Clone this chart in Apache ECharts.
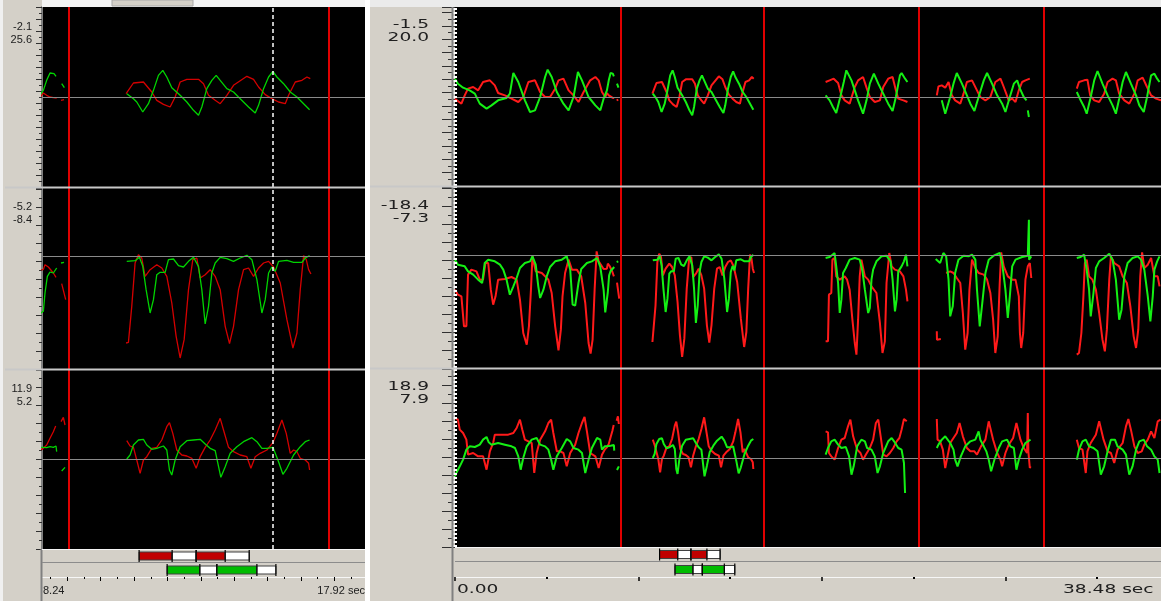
<!DOCTYPE html>
<html><head><meta charset="utf-8">
<script src="https://cdn.jsdelivr.net/npm/echarts@6/dist/echarts.min.js"></script>
<style>html,body{margin:0;padding:0;background:#d4d0c8;}#c{width:1161px;height:601px;}</style>
</head><body><div id="c"></div>
<script>
// time in seconds, values in degrees (null = gap in recording)
const topRed = [
[0.00,-0.5],[0.35,-2.0],[0.53,0.5],[0.71,2.5],[0.99,3.0],[1.26,2.0],[1.53,4.5],[1.90,5.0],[2.17,3.5],[2.35,1.2],[2.72,0.5],[3.08,-0.5],[3.45,-1.5],[3.72,0.0],[4.00,4.5],[4.36,5.0],[4.64,1.5],[4.91,0.0],[5.18,0.0],[5.46,2.5],[5.64,5.0],[5.91,5.5],[6.19,2.0],[6.46,0.5],[6.73,-1.5],[7.01,1.5],[7.37,5.0],[7.65,6.0],[7.83,5.0],[8.01,1.5],[8.19,0.0],[8.28,1.2],[8.33,1.5],[8.38,0.5],[8.48,0.0],[8.58,-0.2],[8.68,-0.3],null,[8.81,-1.0],[8.90,-0.8],null,
[10.76,1.0],[10.98,4.2],[11.28,4.5],[11.53,1.5],[11.68,-1.0],[11.88,-2.2],[12.08,-3.0],[12.23,0.0],[12.38,4.5],[12.58,5.3],[12.93,5.3],[13.08,4.0],[13.23,0.5],[13.43,-1.0],[13.58,-2.0],[13.78,0.5],[13.98,3.5],[14.38,6.2],[14.58,5.3],[14.73,3.0],[14.93,0.7],[15.13,-0.5],[15.33,-1.5],[15.53,-2.0],[15.63,0.5],[15.83,4.5],[16.03,5.0],[16.18,6.0],[16.28,5.5],null,
[20.20,4.5],[20.42,5.0],[20.64,5.5],[20.88,4.2],[21.06,0.5],[21.24,-1.0],[21.51,-2.0],[21.79,3.0],[21.97,5.0],[22.24,6.0],[22.43,2.8],[22.61,0.0],[22.88,-1.5],[23.16,-1.0],[23.34,3.0],[23.61,5.5],[23.85,6.0],[24.03,2.0],[24.16,-0.5],[24.44,-1.0],[24.66,-1.5],null,
[26.26,0.5],[26.35,3.2],[26.53,3.5],[26.72,2.8],[26.90,4.5],[27.08,0.5],[27.26,-1.0],[27.54,-2.0],[27.72,1.0],[27.90,4.5],[28.18,5.0],[28.45,2.0],[28.63,0.0],[28.91,-1.0],[29.18,0.0],[29.45,4.5],[29.73,5.5],[29.91,3.0],[30.18,-1.0],[30.37,-0.5],[30.55,-1.5],[30.73,2.0],[30.91,4.5],[31.09,5.0],[31.33,5.5],null,
[33.89,2.5],[34.01,4.5],[34.29,5.0],[34.47,5.2],[34.62,0.5],[34.84,-1.0],[35.11,-1.5],[35.38,1.0],[35.57,4.5],[35.84,5.5],[36.02,5.0],[36.20,1.0],[36.48,-1.0],[36.75,-2.0],[37.03,1.0],[37.21,5.0],[37.48,5.8],[37.72,3.0],[37.94,0.5],[38.21,-0.5],[38.48,-1.0]
];
const topGreen = [
[0.00,5.5],[0.16,4.0],[0.44,2.8],[0.80,2.0],[1.08,1.0],[1.35,-2.0],[1.72,-3.5],[1.99,-2.5],[2.35,-1.0],[2.81,-0.3],[2.99,1.0],[3.18,7.2],[3.45,4.5],[3.81,-1.0],[4.09,-4.5],[4.36,-4.0],[4.64,0.0],[4.91,6.0],[5.05,8.2],[5.27,6.0],[5.55,1.5],[5.91,-2.0],[6.19,-4.0],[6.46,0.0],[6.70,7.5],[6.92,5.0],[7.28,0.0],[7.65,-2.5],[7.92,-4.0],[8.10,-0.5],[8.28,2.0],[8.38,5.0],[8.48,7.2],[8.53,7.7],[8.60,7.0],[8.66,6.2],null,[8.83,4.0],[8.91,2.8],null,
[10.78,1.0],[10.98,-0.5],[11.08,-1.5],[11.26,-4.5],[11.43,-2.0],[11.58,2.0],[11.73,6.5],[11.86,8.0],[11.98,6.0],[12.13,2.8],[12.38,0.5],[12.58,-1.5],[12.78,-4.0],[12.93,-5.5],[13.03,-3.0],[13.18,2.5],[13.33,5.0],[13.46,6.5],[13.58,5.0],[13.78,2.5],[13.98,1.5],[14.18,-0.5],[14.43,-3.0],[14.63,-4.8],[14.73,-2.5],[14.88,2.5],[15.03,6.0],[15.16,7.7],[15.28,6.0],[15.48,4.0],[15.68,1.5],[15.88,0.0],[16.08,-2.0],[16.26,-3.8],null,
[20.20,0.5],[20.42,-1.0],[20.60,-3.0],[20.78,-4.8],[21.00,0.0],[21.19,4.5],[21.33,8.0],[21.61,5.0],[21.79,2.0],[21.97,-1.0],[22.24,-5.0],[22.43,-1.0],[22.61,4.0],[22.83,7.0],[23.07,4.0],[23.34,1.0],[23.61,-2.0],[23.85,-4.2],[24.03,0.0],[24.25,6.5],[24.34,7.2],[24.53,5.5],[24.66,4.5],null,
[26.53,-1.0],[26.72,-5.0],[26.99,0.0],[27.17,4.0],[27.35,7.2],[27.63,4.0],[27.90,0.5],[28.09,-2.0],[28.31,-4.2],[28.54,0.0],[28.82,5.0],[29.00,7.2],[29.27,4.0],[29.55,0.5],[29.82,-2.0],[30.00,-4.5],[30.24,0.0],[30.46,4.0],[30.64,5.0],[30.79,2.5],[31.00,0.0],[31.15,-1.0],null,[31.22,-4.0],[31.28,-6.0],null,
[33.89,1.5],[34.10,-1.0],[34.29,-3.0],[34.43,-5.0],[34.65,0.0],[34.84,5.0],[35.02,7.8],[35.29,4.0],[35.57,0.5],[35.84,-2.5],[36.02,-5.0],[36.20,-0.5],[36.39,4.5],[36.57,7.5],[36.84,4.0],[37.12,0.5],[37.30,-2.5],[37.54,-4.5],[37.72,0.0],[37.94,6.5],[38.12,7.0],[38.27,5.5],[38.40,4.5]
];
const midRed = [
[0.00,-10.4],[0.16,-11.9],[0.35,-12.4],[0.49,-21.4],[0.62,-21.4],[0.71,-5.9],[0.89,-4.4],[1.17,-4.9],[1.35,-7.4],[1.53,-7.4],[1.66,-2.4],[1.81,-2.4],[1.95,-10.4],[2.08,-14.9],[2.21,-12.4],[2.35,-7.4],[2.72,-7.2],[3.08,-6.6],[3.36,-7.4],[3.54,-13.4],[3.72,-23.4],[3.91,-26.9],[4.03,-21.4],[4.14,-10.4],[4.22,-0.4],[4.40,-4.9],[4.73,-5.4],[5.09,-7.4],[5.27,-11.4],[5.46,-21.4],[5.64,-28.6],[5.77,-22.4],[5.86,-12.4],[6.00,-5.4],[6.19,-1.4],[6.37,-4.4],[6.64,-4.4],[6.88,-6.4],[7.10,-14.4],[7.28,-26.4],[7.39,-29.6],[7.50,-25.4],[7.61,-10.4],[7.72,1.1],[7.83,-1.9],[8.10,-4.2],[8.28,-4.1],[8.33,-2.6],[8.43,-3.3],[8.48,-2.9],[8.58,-5.1],[8.66,-6.4],null,[8.83,-8.3],[8.95,-13.1],null,
[10.76,-26.1],[10.83,-25.9],[10.93,-15.1],[11.03,-2.1],[11.13,0.4],[11.23,-0.6],[11.33,-6.1],[11.48,-4.1],[11.68,-2.6],[11.83,-3.6],[11.98,-6.1],[12.13,-14.1],[12.26,-24.1],[12.38,-30.6],[12.50,-25.1],[12.63,-10.1],[12.76,-1.1],[12.88,-0.6],[12.98,-6.6],[13.13,-5.6],[13.28,-4.1],[13.43,-6.1],[13.58,-10.1],[13.73,-21.1],[13.86,-26.3],[13.98,-21.1],[14.13,-10.1],[14.28,-4.1],[14.43,-3.6],[14.58,-6.1],[14.73,-3.6],[14.88,-2.1],[15.03,-1.6],[15.18,-3.3],[15.38,-8.1],[15.58,-19.1],[15.76,-27.6],[15.88,-23.1],[15.98,-10.1],[16.08,0.1],[16.16,-1.1],[16.23,-4.1],[16.30,-5.4],null,
[20.20,-25.9],[20.33,-25.9],[20.38,-11.9],[20.51,-11.4],[20.57,-1.4],[20.69,-0.9],[20.78,-6.4],[20.97,-7.4],[21.24,-6.4],[21.37,-7.4],[21.51,-10.4],[21.66,-19.4],[21.79,-26.4],[21.88,-29.9],[21.97,-19.4],[22.06,-6.4],[22.15,-1.4],[22.34,-6.4],[22.52,-7.4],[22.70,-9.4],[22.97,-11.4],[23.16,-20.4],[23.30,-29.4],[23.43,-25.9],[23.52,-8.4],[23.67,0.6],[23.80,-3.4],[23.98,-4.4],[24.25,-4.9],[24.44,-6.4],[24.58,-10.4],[24.66,-13.9],null,
[26.26,-22.9],[26.27,-25.4],[26.48,-25.2],null,
[26.77,-5.4],[26.99,-4.9],[27.17,-5.4],[27.35,-6.9],[27.54,-8.4],[27.68,-17.4],[27.81,-28.4],[27.94,-23.4],[28.04,-10.4],[28.18,-1.4],[28.36,-3.9],[28.54,-5.4],[28.82,-5.9],[29.00,-7.4],[29.18,-11.4],[29.33,-19.4],[29.45,-29.4],[29.58,-24.4],[29.69,-8.4],[29.77,0.8],[29.91,-3.4],[30.13,-6.4],[30.37,-7.4],[30.55,-7.4],[30.73,-12.4],[30.79,-23.4],[30.86,-27.9],[30.97,-23.4],[31.09,-7.4],[31.22,-3.4],[31.33,-2.4],[31.41,-6.9],null,
[33.89,-29.9],[34.01,-29.4],[34.14,-23.4],[34.25,-12.4],[34.33,-2.4],[34.43,-1.4],[34.56,-6.4],[34.74,-7.4],[34.93,-10.4],[35.11,-17.4],[35.29,-25.4],[35.42,-28.9],[35.53,-22.4],[35.66,-7.4],[35.75,-0.4],[35.93,-2.4],[36.20,-3.4],[36.39,-6.4],[36.62,-8.4],[36.81,-15.4],[36.99,-24.4],[37.12,-27.9],[37.24,-22.4],[37.35,-6.4],[37.45,0.8],[37.57,-3.9],[37.76,-2.9],[37.94,-0.9],[38.12,-6.4],[38.30,-6.4],[38.40,-9.4]
];
const midGreen = [
[0.00,-1.4],[0.16,-2.9],[0.53,-3.4],[0.71,-4.9],[0.99,-5.9],[1.26,-7.4],[1.48,-8.4],[1.62,-2.4],[1.81,-1.4],[2.17,-1.9],[2.45,-2.9],[2.63,-4.4],[2.81,-7.4],[2.99,-11.9],[3.18,-9.4],[3.36,-6.9],[3.54,-3.9],[3.81,-2.4],[4.09,-1.9],[4.22,-0.4],[4.40,-2.9],[4.54,-9.4],[4.64,-12.9],[4.82,-10.4],[5.00,-6.4],[5.18,-3.6],[5.46,-1.9],[5.82,-1.4],[6.09,-0.4],[6.28,-4.4],[6.41,-14.9],[6.55,-15.2],[6.73,-8.4],[6.88,-4.2],[7.19,-2.4],[7.46,-1.9],[7.74,-0.9],[7.92,-3.6],[8.10,-10.4],[8.19,-17.2],[8.28,-16.6],[8.33,-11.1],[8.40,-6.1],[8.48,-4.8],[8.58,-5.1],[8.68,-3.6],null,[8.81,-2.1],[8.90,-1.9],null,
[10.78,-1.6],[11.03,-1.4],[11.16,-0.4],[11.26,-3.1],[11.36,-10.1],[11.48,-17.1],[11.58,-13.1],[11.68,-5.6],[11.78,-4.9],[11.93,-4.9],[12.03,-1.1],[12.18,-0.9],[12.33,-2.9],[12.48,-3.3],[12.63,-1.6],[12.78,-0.4],[12.93,-3.1],[13.03,-10.1],[13.13,-20.4],[13.23,-15.1],[13.33,-5.1],[13.43,-2.1],[13.58,-0.4],[13.78,-0.8],[13.98,-1.6],[14.18,-0.6],[14.38,0.2],[14.53,-1.1],[14.68,-7.1],[14.83,-17.1],[14.93,-13.1],[15.03,-5.1],[15.13,-3.3],[15.23,-4.6],[15.33,-1.6],[15.58,-1.3],[15.78,-1.9],[16.03,-1.9],[16.13,-0.6],[16.26,0.1],null,
[20.20,-0.9],[20.42,-0.6],[20.69,0.6],[20.78,-3.4],[20.88,-8.4],[20.97,-17.4],[21.06,-13.4],[21.15,-5.4],[21.30,-3.9],[21.51,-1.4],[21.79,-0.9],[22.06,-1.4],[22.21,-4.9],[22.34,-10.4],[22.52,-17.4],[22.61,-15.9],[22.70,-7.4],[22.79,-4.4],[22.97,-1.9],[23.25,-0.4],[23.52,-0.2],[23.74,-1.9],[23.85,-7.4],[23.98,-16.9],[24.07,-13.4],[24.16,-4.9],[24.34,-3.4],[24.47,-1.9],[24.58,0.1],[24.66,-3.4],null,
[26.20,-1.2],[26.44,-2.4],[26.62,0.6],[26.77,-0.4],[26.90,-7.4],[26.99,-18.4],[27.13,-15.4],[27.26,-5.4],[27.44,-1.4],[27.72,-0.2],[27.99,-0.4],[28.18,0.1],[28.36,-1.4],[28.45,-10.4],[28.60,-21.4],[28.72,-15.4],[28.91,-5.4],[29.09,-1.4],[29.36,-0.2],[29.69,0.6],[29.82,-2.4],[30.00,-10.4],[30.13,-18.9],[30.24,-12.4],[30.37,-3.4],[30.55,-1.4],[30.91,-0.6],[31.22,-0.2],[31.28,10.6],[31.29,-1.4],[31.41,-0.4],null,
[33.89,-0.9],[34.10,-0.6],[34.29,0.1],[34.43,-4.4],[34.56,-10.4],[34.65,-18.4],[34.80,-11.4],[34.93,-3.9],[35.11,-1.9],[35.38,-0.9],[35.66,0.4],[35.84,-1.4],[36.02,-7.4],[36.20,-19.4],[36.33,-16.4],[36.48,-6.4],[36.66,-2.4],[36.93,-0.9],[37.21,-0.4],[37.39,-1.4],[37.57,-4.4],[37.76,-12.4],[37.90,-19.9],[38.03,-12.4],[38.12,-4.4],[38.27,-1.9],[38.40,-0.4]
];
const botRed = [
[0.00,12.0],[0.16,11.5],[0.26,8.5],[0.44,7.5],[0.62,5.5],[0.71,1.0],[0.99,1.5],[1.26,0.5],[1.53,0.5],[1.72,-3.5],[1.90,2.0],[2.08,4.5],[2.17,7.0],[2.54,7.0],[2.90,7.0],[3.18,7.5],[3.36,9.0],[3.54,11.5],[3.67,8.5],[3.81,5.5],[4.00,5.0],[4.18,4.5],[4.32,-4.5],[4.45,1.5],[4.64,5.5],[4.91,8.0],[5.09,10.5],[5.24,11.5],[5.36,7.5],[5.55,2.0],[5.73,2.0],[5.91,1.5],[6.09,-2.5],[6.28,1.5],[6.55,4.0],[6.73,7.5],[6.92,10.5],[7.06,12.3],[7.19,8.0],[7.37,1.5],[7.65,0.5],[7.83,-3.0],[8.01,1.0],[8.16,2.5],[8.28,3.2],[8.38,4.2],[8.48,6.2],[8.58,8.2],[8.65,9.9],null,[8.81,11.2],[8.88,12.5],[8.93,10.2],null,
[10.78,5.5],[10.88,3.9],[10.98,3.5],[11.08,-0.3],[11.18,-4.3],[11.28,-0.3],[11.38,0.7],[11.53,3.2],[11.68,3.5],[11.83,5.7],[11.98,9.7],[12.06,10.9],[12.16,7.7],[12.28,2.7],[12.43,1.2],[12.58,0.9],[12.73,0.2],[12.86,-2.8],[12.98,0.7],[13.13,3.5],[13.28,5.7],[13.43,8.7],[13.58,12.2],[13.68,8.7],[13.83,3.5],[13.98,2.2],[14.18,1.2],[14.38,0.7],[14.50,-2.8],[14.63,0.7],[14.78,1.7],[14.98,2.7],[15.16,4.9],[15.28,7.7],[15.43,11.7],[15.56,7.7],[15.68,1.7],[15.78,2.7],[15.88,2.2],[15.98,0.2],[16.13,-0.3],[16.23,-1.3],[16.26,-3.3],null,
[20.20,8.0],[20.33,7.7],[20.38,1.5],[20.51,0.5],[20.69,-0.5],[20.88,3.0],[21.06,5.5],[21.24,6.0],[21.42,9.5],[21.55,11.5],[21.70,6.5],[21.92,2.5],[22.10,1.5],[22.24,-0.5],[22.39,1.0],[22.61,3.0],[22.79,5.5],[22.94,10.5],[23.07,11.5],[23.20,6.5],[23.34,1.0],[23.52,0.5],[23.70,1.5],[23.89,3.0],[24.07,5.0],[24.22,6.0],[24.34,8.5],[24.47,11.7],[24.62,11.0],null,
[26.26,11.7],[26.30,5.5],[26.44,5.0],[26.59,2.5],[26.72,-3.0],[26.81,-0.5],[26.99,4.5],[27.17,6.0],[27.35,7.5],[27.50,10.5],[27.57,11.0],[27.68,6.5],[27.90,3.0],[28.09,2.0],[28.31,2.0],[28.45,1.0],[28.67,3.5],[28.91,5.5],[29.09,11.0],[29.18,11.0],[29.33,5.5],[29.55,1.5],[29.73,-0.5],[29.82,-2.5],[30.00,1.5],[30.18,4.0],[30.42,6.0],[30.60,10.5],[30.67,11.0],[30.82,5.5],[31.00,3.0],[31.18,1.5],[31.22,13.5],[31.25,2.0],[31.33,-3.0],[31.37,-2.5],null,
[33.89,5.5],[34.01,3.0],[34.20,2.5],[34.38,-4.5],[34.47,2.0],[34.65,4.5],[34.93,7.0],[35.11,11.0],[35.20,11.0],[35.35,5.5],[35.57,2.0],[35.75,1.5],[35.93,-1.5],[36.11,2.5],[36.39,4.5],[36.57,9.5],[36.70,11.7],[36.84,8.5],[37.03,3.5],[37.21,1.5],[37.43,2.0],[37.57,4.0],[37.76,5.5],[37.94,8.0],[38.12,6.0],[38.30,11.0],[38.45,11.5]
];
const botGreen = [
[0.00,-5.5],[0.07,-4.5],[0.26,-2.5],[0.44,-0.5],[0.62,2.5],[0.80,3.5],[1.08,3.3],[1.35,4.0],[1.53,5.5],[1.72,6.3],[1.84,4.7],[1.99,4.0],[2.35,4.5],[2.72,4.0],[3.08,3.5],[3.27,3.0],[3.45,0.5],[3.58,-3.5],[3.72,0.0],[3.91,3.5],[4.18,5.5],[4.45,6.0],[4.64,4.0],[4.91,3.5],[5.09,2.5],[5.24,-0.5],[5.36,-3.5],[5.55,0.5],[5.82,3.0],[6.09,5.7],[6.28,5.0],[6.46,3.0],[6.73,2.5],[6.92,1.5],[7.10,-4.5],[7.28,-0.5],[7.46,3.0],[7.74,6.0],[7.92,5.5],[8.01,2.5],[8.16,3.5],[8.28,3.5],[8.38,3.4],[8.48,3.7],[8.58,3.5],[8.66,3.9],[8.68,2.2],null,[8.83,-3.6],[8.93,-2.5],null,
[10.78,0.0],[10.88,1.2],[10.98,4.2],[11.13,5.7],[11.28,5.9],[11.38,4.2],[11.53,2.9],[11.68,3.2],[11.88,3.9],[11.98,2.7],[12.06,-3.3],[12.13,-4.8],[12.23,-0.3],[12.38,3.7],[12.58,5.5],[12.78,5.7],[12.98,5.9],[13.13,4.5],[13.28,3.2],[13.43,2.5],[13.60,-5.5],[13.73,-2.3],[13.88,1.7],[14.08,3.7],[14.28,5.2],[14.53,6.4],[14.68,5.2],[14.83,3.2],[14.98,3.2],[15.16,3.5],[15.33,-0.8],[15.46,-4.6],[15.58,-2.8],[15.78,1.2],[15.98,3.7],[16.13,5.2],[16.26,5.7],null,
[20.20,1.0],[20.33,3.0],[20.51,5.0],[20.69,5.5],[20.88,4.0],[21.06,3.0],[21.30,3.3],[21.48,0.5],[21.61,-5.0],[21.73,-2.5],[21.92,3.5],[22.15,5.5],[22.34,5.0],[22.46,3.0],[22.70,2.5],[22.88,0.5],[23.03,-4.5],[23.16,-2.5],[23.34,1.5],[23.61,5.0],[23.80,6.0],[23.93,5.0],[24.16,3.0],[24.34,2.5],[24.47,-1.5],[24.53,-10.5],null,
[26.26,3.0],[26.35,4.0],[26.53,5.5],[26.72,6.5],[26.99,4.5],[27.17,2.5],[27.26,-0.5],[27.39,-2.5],[27.57,0.5],[27.81,3.5],[28.09,5.0],[28.36,5.5],[28.54,8.0],[28.63,5.5],[28.82,3.5],[28.96,2.0],[29.09,-0.5],[29.22,-4.0],[29.40,-0.5],[29.64,3.0],[29.82,5.0],[30.09,5.5],[30.27,3.5],[30.46,3.0],[30.60,-3.5],[30.73,-0.5],[30.91,2.5],[31.09,4.5],[31.37,5.5],null,
[33.89,-0.5],[34.01,2.5],[34.20,5.0],[34.38,5.5],[34.56,3.5],[34.80,3.0],[35.02,2.0],[35.20,-5.0],[35.38,-2.5],[35.57,2.0],[35.75,5.5],[35.97,5.5],[36.11,3.5],[36.39,2.5],[36.57,1.0],[36.75,-5.0],[36.93,-2.5],[37.12,2.5],[37.30,5.0],[37.54,5.5],[37.72,3.5],[37.94,2.5],[38.12,0.5],[38.30,-0.5],[38.40,-4.5]
];
// event markers (s), cursors (s)
const eventTimes = [9.03, 16.84, 25.25, 32.09];
const leftCursor = 15.16;
const rightCursor = 0.0;
// gait phases: [start, end, stance(1)/swing(0)]
const redPhases = [[11.15,12.14,1],[12.14,12.86,0],[12.86,13.73,1],[13.73,14.45,0]];
const greenPhases = [[11.99,12.97,1],[12.97,13.48,0],[13.48,14.68,1],[14.68,15.25,0]];
// readouts and axis labels
const leftReadouts = [['-2.1','25.6'],['-5.2','-8.4'],['11.9','5.2']];
const rightReadouts = [['-1.5','20.0'],['-18.4','-7.3'],['18.9','7.9']];
const leftAxisLabels = ['8.24','17.92 sec'];
const rightAxisLabels = ['0.00','38.48 sec'];
const leftMajorTicks = [9,10,11,12,13,14,15,16,17];
const leftMinorTicks = [8.5,9.5,10.5,11.5,12.5,13.5,14.5,15.5,16.5,17.5];
const rightMajorTicks = [0,10,20,30];
const rightMinorTicks = [5,15,25,35];

const chart = echarts.init(document.getElementById('c'), null, {renderer:'canvas'});
const prep = a => a.map(p => p === null ? ['-','-'] : p);
const reds = [topRed, midRed, botRed], greens = [topGreen, midGreen, botGreen];

const grids = [
 {left:42, top:7, width:323, height:180},
 {left:42, top:188, width:323, height:181},
 {left:42, top:370, width:323, height:179},
 {left:42, top:549, width:323, height:14},
 {left:42, top:563, width:323, height:14},
 {left:455, top:7, width:706, height:179},
 {left:455, top:187, width:706, height:181},
 {left:455, top:369, width:706, height:178},
 {left:455, top:547, width:706, height:15},
 {left:455, top:562, width:706, height:15},
 {left:42, top:563, width:323, height:14},
 {left:455, top:562, width:706, height:15}
];
const plotIdx = [0,1,2,5,6,7];
const yr = {0:[-27,27,3.6,6,3],1:[-33.9,20.4,5.4,6,3],2:[-27,26.7,5.4,6,3],5:[-26.7,27,4,13,7],6:[-33.9,20.4,5.4,13,7],7:[-26.7,26.7,5.4,13,7]};

const gridOpt = grids.map((g,i) => Object.assign({}, g, plotIdx.includes(i) ? {show:true, backgroundColor:'#000', borderWidth:0} : {show:false}));
const xAxes = grids.map((g,i) => {
  const left = (i < 5 || i === 10);
  const ax = {gridIndex:i, type:'value', min: left?8.24:0, max: left?17.92:38.48, show:false, splitLine:{show:false}};
  if (i === 4 || i === 9) {
    Object.assign(ax, {show:true, position:'bottom',
      axisLine:{show:true, lineStyle:{color:'#f6f6f6', width:1}},
      axisTick:{show:true, length: 4, customValues: left?leftMajorTicks:rightMajorTicks, lineStyle:{color:'#000', width: left?1:1.5}},
      axisLabel:{show:false}});
  }
  if (i === 10 || i === 11) {
    Object.assign(ax, {show:true, position:'bottom',
      axisLine:{show:false},
      axisTick:{show:true, length: 2, customValues: left?leftMinorTicks:rightMinorTicks, lineStyle:{color:'#000', width: left?1:2}},
      axisLabel:{show:false}});
  }
  return ax;
});
const yAxes = grids.map((g,i) => {
  if (!plotIdx.includes(i)) return {gridIndex:i, type:'value', min:0, max:1, show:false};
  const r = yr[i];
  return {gridIndex:i, type:'value', min:r[0], max:r[1], interval:r[2],
    axisLine:{show: i < 5, lineStyle:{color:'#808080', width:2}},
    axisTick:{show:true, length:r[3], lineStyle:{color:'#303030'}},
    minorTick:{show:true, splitNumber:2, length:r[4], lineStyle:{color:'#303030'}},
    axisLabel:{show:false}, splitLine:{show:false}, minorSplitLine:{show:false}};
});

const series = [];
plotIdx.forEach((gi, k) => {
  const c = k % 3, left = gi < 5;
  const xmin = left?8.24:0, xmax = left?17.92:38.48;
  const ml = [{yAxis:0, lineStyle:{color:'#8a8a8a', width:1, type:'solid'}}];
  eventTimes.filter(t => t>xmin && t<xmax).forEach(t => ml.push({xAxis:t, lineStyle:{color:'#e00000', width:2, type:'solid'}}));
  ml.push({xAxis: left?leftCursor:rightCursor, lineStyle: left?{color:'#ffffff', width:1.5, type:[4,3]}:{color:'#ffffff', width:4, type:[2,2]}});
  series.push({type:'line', xAxisIndex:gi, yAxisIndex:gi, data:[], z:1, silent:true,
    markLine:{silent:true, symbol:['none','none'], animation:false, label:{show:false}, data:ml}});
  series.push({type:'line', xAxisIndex:gi, yAxisIndex:gi, data:prep(reds[c]), showSymbol:false, symbol:'none', z:2, animation:false, clip:true,
    lineStyle:{color: left?'#d40000':'#ff1a1a', width: left?1.3:2}});
  series.push({type:'line', xAxisIndex:gi, yAxisIndex:gi, data:prep(greens[c]), showSymbol:false, symbol:'none', z:3, animation:false, clip:true,
    lineStyle:{color: left?'#00d400':'#14f014', width: left?1.3:2}});
});
function phaseSeries(gi, data, color) {
  return {type:'custom', xAxisIndex:gi, yAxisIndex:gi, data:data, z:5, animation:false, encode:{x:[0,1]},
    renderItem:(params, api) => {
      const s = api.coord([api.value(0), 0.5]), e = api.coord([api.value(1), 0.5]);
      const stance = api.value(2) === 1;
      const ch = [{type:'rect', shape:{x:s[0], y:s[1]-4, width:e[0]-s[0], height:8}, style:{fill: stance?color:'#ffffff', stroke:'#404040', lineWidth:1}}];
      ch.push({type:'line', shape:{x1:s[0], y1:s[1]-6, x2:s[0], y2:s[1]+6}, style:{stroke:'#000', lineWidth:1.2}});
      if (!stance) ch.push({type:'line', shape:{x1:e[0], y1:e[1]-6, x2:e[0], y2:e[1]+6}, style:{stroke:'#000', lineWidth:1.2}});
      return {type:'group', children:ch};
    }};
}
series.push(phaseSeries(3, redPhases, '#c00000'));
series.push(phaseSeries(4, greenPhases, '#00bb00'));
series.push(phaseSeries(8, redPhases, '#c00000'));
series.push(phaseSeries(9, greenPhases, '#00bb00'));

const g = [];
// top strips
g.push({type:'rect', shape:{x:42, y:0, width:323, height:7}, style:{fill:'#f4f4f4'}, z:50});
g.push({type:'rect', shape:{x:112, y:0, width:81, height:6}, style:{fill:'#d4d0c8', stroke:'#a8a8a8', lineWidth:1}, z:51});
g.push({type:'rect', shape:{x:370, y:0, width:791, height:7}, style:{fill:'#ebebeb'}, z:50});
g.push({type:'rect', shape:{x:365, y:0, width:5, height:601}, style:{fill:'#ffffff'}, z:50});
g.push({type:'rect', shape:{x:0, y:0, width:3, height:601}, style:{fill:'#f0f0f0'}, z:50});
// right panel vertical axis line
g.push({type:'line', shape:{x1:452.5, y1:7, x2:452.5, y2:601}, style:{stroke:'#808080', lineWidth:2}, z:60});
g.push({type:'line', shape:{x1:41.5, y1:549, x2:41.5, y2:601}, style:{stroke:'#808080', lineWidth:2}, z:60});
// panel separators
[187.5, 369.5].forEach(y => g.push({type:'line', shape:{x1:5, y1:y, x2:365, y2:y}, style:{stroke:'#c8c8c8', lineWidth:2}, z:60}));
[186.5, 368.5].forEach(y => g.push({type:'line', shape:{x1:370, y1:y, x2:1161, y2:y}, style:{stroke:'#c8c8c8', lineWidth:2}, z:60}));
// bar rows
g.push({type:'line', shape:{x1:42, y1:549.5, x2:365, y2:549.5}, style:{stroke:'#f4f4f4', lineWidth:1}, z:60});
g.push({type:'line', shape:{x1:42, y1:562.5, x2:365, y2:562.5}, style:{stroke:'#8c8c8c', lineWidth:1}, z:60});
g.push({type:'line', shape:{x1:455, y1:547.5, x2:1161, y2:547.5}, style:{stroke:'#f4f4f4', lineWidth:1}, z:60});
g.push({type:'line', shape:{x1:455, y1:561.5, x2:1161, y2:561.5}, style:{stroke:'#8c8c8c', lineWidth:1}, z:60});
// readouts
const lTops = [27, 207, 389], rTops = [25, 206, 387];
leftReadouts.forEach((pair, i) => pair.forEach((t, j) => g.push({type:'text', x:32, y:lTops[i]+13*j, z:70,
  style:{text:t, fill:'#202020', font:'11px "Liberation Sans", Arial, sans-serif', align:'right', verticalAlign:'middle'}})));
rightReadouts.forEach((pair, i) => pair.forEach((t, j) => g.push({type:'text', x:429, y:rTops[i]+13*j, scaleX:1.55, z:70,
  style:{text:t, fill:'#202020', font:'12px "DejaVu Sans", sans-serif', align:'right', verticalAlign:'middle'}})));
// axis labels
g.push({type:'text', x:43, y:591, z:70, style:{text:leftAxisLabels[0], fill:'#202020', font:'11px "Liberation Sans", Arial, sans-serif', align:'left', verticalAlign:'middle'}});
g.push({type:'text', x:365, y:591, z:70, style:{text:leftAxisLabels[1], fill:'#202020', font:'11px "Liberation Sans", Arial, sans-serif', align:'right', verticalAlign:'middle'}});
g.push({type:'text', x:457, y:590, scaleX:1.55, z:70, style:{text:rightAxisLabels[0], fill:'#202020', font:'12px "DejaVu Sans", sans-serif', align:'left', verticalAlign:'middle'}});
g.push({type:'text', x:1063, y:590, scaleX:1.55, z:70, style:{text:rightAxisLabels[1], fill:'#202020', font:'12px "DejaVu Sans", sans-serif', align:'left', verticalAlign:'middle'}});

chart.setOption({
  backgroundColor:'#d4d0c8', animation:false,
  grid:gridOpt, xAxis:xAxes, yAxis:yAxes, series:series, graphic:g
});
</script></body></html>
